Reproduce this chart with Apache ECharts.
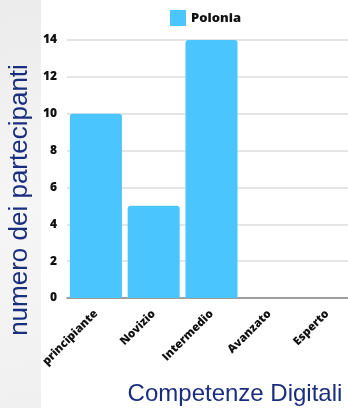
<!DOCTYPE html>
<html><head><meta charset="utf-8">
<script src="https://cdn.jsdelivr.net/npm/echarts@6/dist/echarts.min.js"></script>
<style>html,body{margin:0;padding:0;background:#fff}#c{width:348px;height:408px}</style>
</head><body><div id="c"></div>
<script>
const categories = ['principiante', 'Novizio', 'Intermedio', 'Avanzato', 'Esperto'];
const seriesName = 'Polonia';
const values = [10, 5, 14, 0, 0];
const yTicks = { min: 0, max: 14, interval: 2 };
const yTitle = 'numero dei partecipanti';
const xTitle = 'Competenze Digitali';

const chart = echarts.init(document.getElementById('c'), null, { renderer: 'canvas' });
const tickFont = { fontFamily: 'Open Sans', fontWeight: 800, color: '#111' };
const titleColor = '#1a2e80';
chart.setOption({
  backgroundColor: '#fff',
  animation: false,
  graphic: [{
    type: 'rect', left: 0, top: 0, z: -10, silent: true,
    shape: { width: 41, height: 408 },
    style: { fill: new echarts.graphic.LinearGradient(0, 0, 1, 1, [
      { offset: 0, color: '#ebebeb' }, { offset: 0.5, color: '#f6f6f6' }, { offset: 1, color: '#f0f0f0' }]) }
  }, {
    type: 'text', x: 20, y: 200, rotation: Math.PI / 2,
    style: { text: yTitle, font: '26px "Liberation Sans"', fill: titleColor, align: 'center', verticalAlign: 'middle' }
  }, {
    type: 'text', x: 235, y: 394,
    style: { text: xTitle, font: '24px "Liberation Sans"', fill: titleColor, align: 'center', verticalAlign: 'middle' }
  }],
  legend: {
    data: [seriesName], top: 5, left: 165,
    itemWidth: 16, itemHeight: 16, itemGap: 10,
    icon: 'rect',
    textStyle: { fontFamily: 'Open Sans', fontWeight: 800, fontSize: 13, color: '#111' }
  },
  grid: { left: 67, right: -8, top: 40, bottom: 110, containLabel: false, outerBoundsMode: 'none' },
  xAxis: {
    type: 'category', data: categories,
    axisLine: { lineStyle: { color: '#888', width: 1.5 } },
    axisTick: { show: false },
    axisLabel: { ...tickFont, fontSize: 11.5, rotate: 45, margin: 14, interval: 0 }
  },
  yAxis: {
    type: 'value', min: yTicks.min, max: yTicks.max, interval: yTicks.interval,
    axisLine: { show: false }, axisTick: { show: false },
    splitLine: { lineStyle: { color: '#dcdcdc', width: 1.5 } },
    axisLabel: { ...tickFont, fontSize: 12, margin: 10 }
  },
  series: [{
    name: seriesName, type: 'bar', data: values,
    barCategoryGap: '10%',
    itemStyle: { color: '#4AC5FE', borderRadius: [3, 3, 0, 0] }
  }]
});
</script></body></html>
